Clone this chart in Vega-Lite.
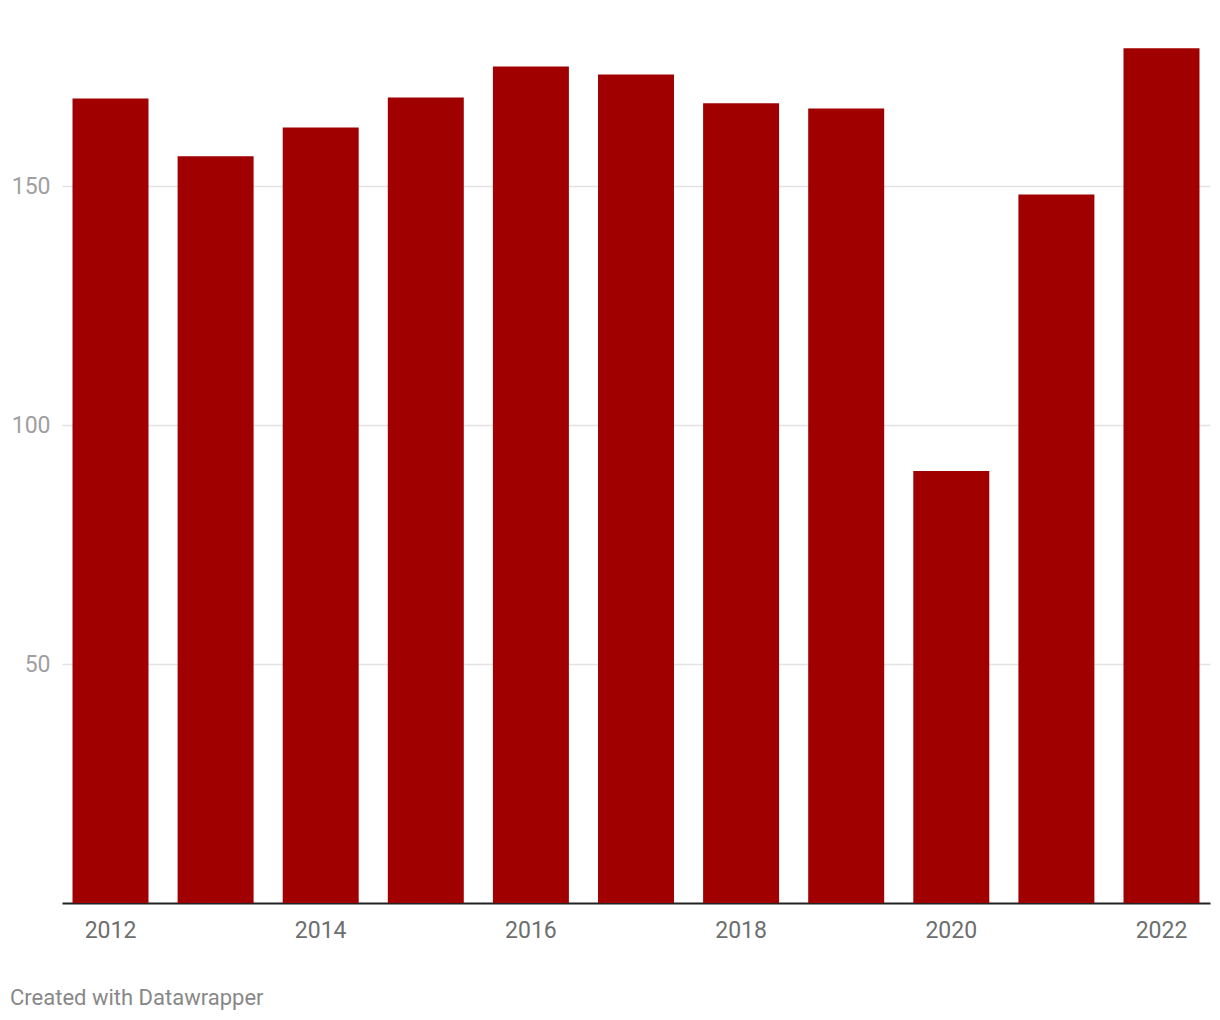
{
  "$schema": "https://vega.github.io/schema/vega-lite/v6.json",
  "width": 1148,
  "height": 860,
  "autosize": {"type": "none"},
  "padding": {"left": 62, "top": 43, "right": 10, "bottom": 117},
  "background": "white",
  "config": {"view": {"stroke": null}, "font": "Roboto"},
  "title": {
    "text": "Created with Datawrapper",
    "orient": "bottom",
    "anchor": "start",
    "frame": "group",
    "dx": -52,
    "offset": 46,
    "fontSize": 22,
    "fontWeight": "normal",
    "color": "#888888",
    "font": "Roboto"
  },
  "data": {
    "values": [
      {"year": 2012, "value": 168.4},
      {"year": 2013, "value": 156.3},
      {"year": 2014, "value": 162.3},
      {"year": 2015, "value": 168.6},
      {"year": 2016, "value": 175.1},
      {"year": 2017, "value": 173.4},
      {"year": 2018, "value": 167.4},
      {"year": 2019, "value": 166.3},
      {"year": 2020, "value": 90.4},
      {"year": 2021, "value": 148.3},
      {"year": 2022, "value": 178.9}
    ]
  },
  "mark": {"type": "bar", "color": "#a00000"},
  "encoding": {
    "x": {
      "field": "year",
      "type": "ordinal",
      "scale": {"paddingInner": 0.277, "paddingOuter": 0.1},
      "axis": {
        "title": null,
        "values": [2012, 2014, 2016, 2018, 2020, 2022],
        "labelAngle": 0,
        "ticks": false,
        "domainColor": "#222222",
        "domainWidth": 2,
        "labelFontSize": 23,
        "labelColor": "#6e6e6e",
        "labelPadding": 16,
        "labelFont": "Roboto"
      }
    },
    "y": {
      "field": "value",
      "type": "quantitative",
      "scale": {"domain": [0, 180], "nice": false},
      "axis": {
        "title": null,
        "values": [50, 100, 150],
        "domain": false,
        "ticks": false,
        "gridColor": "#e3e3e3",
        "gridWidth": 1.5,
        "labelFontSize": 23,
        "labelColor": "#a0a0a0",
        "labelPadding": 12,
        "labelFont": "Roboto"
      }
    }
  }
}
